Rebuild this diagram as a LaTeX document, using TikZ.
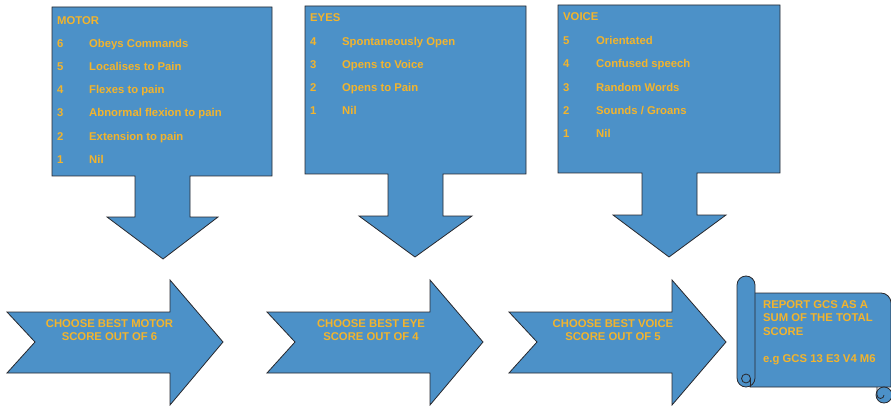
\documentclass[tikz,border=0pt]{standalone}
\usepackage{fontspec}
\setmainfont{Liberation Sans}
\definecolor{boxblue}{RGB}{76,145,200}
\definecolor{edgegray}{RGB}{40,40,45}
\definecolor{gold}{RGB}{242,180,45}
\begin{document}
\begin{tikzpicture}[x=1pt,y=-1pt,
  shapefill/.style={fill=boxblue,draw=edgegray,line width=0.8pt,line join=miter},
  thinline/.style={draw=edgegray,line width=0.8pt},
  lbl/.style={font=\fontsize{11.3}{13.5}\selectfont\bfseries,text=gold,anchor=base west,inner sep=0pt},
  clbl/.style={font=\fontsize{11.3}{13.5}\selectfont\bfseries,text=gold,anchor=base,inner sep=0pt}]
\useasboundingbox (0,0) rectangle (891,406);
% --- callout boxes with down arrows
\draw[shapefill] (52,7) -- (272,7) -- (272,176) -- (190,176) -- (190,217) -- (218,217) -- (163,259) -- (107,217) -- (135,217) -- (135,176) -- (52,176) -- cycle;
\draw[shapefill] (305,6) -- (526,6) -- (526,174) -- (443,174) -- (443,216) -- (472,216) -- (415,257) -- (359,216) -- (388,216) -- (388,174) -- (305,174) -- cycle;
\draw[shapefill] (558,5) -- (780,5) -- (780,173) -- (697,173) -- (697,215) -- (726,215) -- (669,257) -- (613,215) -- (642,215) -- (642,173) -- (558,173) -- cycle;
% MOTOR
\node[lbl] (mt) at (57,24.3) {MOTOR};
\node[lbl] (m6n) at (57,47.4) {6}; \node[lbl] (m6) at (89,47.4) {Obeys Commands};
\node[lbl] (m5n) at (57,70.6) {5}; \node[lbl] (m5) at (89,70.6) {Localises to Pain};
\node[lbl] (m4n) at (57,93.8) {4}; \node[lbl] (m4) at (89,93.8) {Flexes to pain};
\node[lbl] (m3n) at (57,117) {3}; \node[lbl] (m3) at (89,117) {Abnormal flexion to pain};
\node[lbl] (m2n) at (57,140.2) {2}; \node[lbl] (m2) at (89,140.2) {Extension to pain};
\node[lbl] (m1n) at (57,163.4) {1}; \node[lbl] (m1) at (89,163.4) {Nil};
% EYES
\node[lbl] (et) at (310,22) {EYES};
\node[lbl] (e4n) at (310,46) {4}; \node[lbl] (e4) at (342,46) {Spontaneously Open};
\node[lbl] (e3n) at (310,68.5) {3}; \node[lbl] (e3) at (342,68.5) {Opens to Voice};
\node[lbl] (e2n) at (310,92) {2}; \node[lbl] (e2) at (342,92) {Opens to Pain};
\node[lbl] (e1n) at (310,115) {1}; \node[lbl] (e1) at (342,115) {Nil};
% VOICE
\node[lbl] (vt) at (563,21) {VOICE};
\node[lbl] (v5n) at (563,44.3) {5}; \node[lbl] (v5) at (596,44.3) {Orientated};
\node[lbl] (v4n) at (563,67.8) {4}; \node[lbl] (v4) at (596,67.8) {Confused speech};
\node[lbl] (v3n) at (563,91.2) {3}; \node[lbl] (v3) at (596,91.2) {Random Words};
\node[lbl] (v2n) at (563,114.6) {2}; \node[lbl] (v2) at (596,114.6) {Sounds / Groans};
\node[lbl] (v1n) at (563,138) {1}; \node[lbl] (v1) at (596,138) {Nil};
% --- notched right arrows
\draw[shapefill] (7,312) -- (170,312) -- (170,280) -- (223,342) -- (170,405) -- (170,373) -- (7,373) -- (35,342) -- cycle;
\draw[shapefill] (267,312) -- (430,312) -- (430,280) -- (483,342) -- (430,405) -- (430,373) -- (267,373) -- (295,342) -- cycle;
\draw[shapefill] (509,312) -- (672,312) -- (672,280) -- (726,342) -- (672,405) -- (672,373) -- (509,373) -- (537,342) -- cycle;
\node[clbl] (a1a) at (109.5,327.2) {CHOOSE BEST MOTOR};
\node[clbl] (a1b) at (109.5,340.4) {SCORE OUT OF 6};
\node[clbl] (a2a) at (371,327.2) {CHOOSE BEST EYE};
\node[clbl] (a2b) at (371,340.4) {SCORE OUT OF 4};
\node[clbl] (a3a) at (613,327.2) {CHOOSE BEST VOICE};
\node[clbl] (a3b) at (613,340.4) {SCORE OUT OF 5};
% --- scroll: body with right roll (cut by the page edge)
% (y axis points down: angle 90 = down, 270 = up)
\draw[shapefill] (750,293) -- (881,293) arc[start angle=270,end angle=360,radius=10] -- (891,387) -- (750,387) -- cycle;
\draw[shapefill] (884,395) circle[radius=8];
\draw[thinline] (884,395) arc[start angle=0,end angle=180,radius=3.5] -- (877,387);
% left roll
\draw[shapefill] (737,285) arc[start angle=180,end angle=360,radius=9] -- (755,378) arc[start angle=0,end angle=180,radius=9] -- cycle;
\draw[thinline] (746,378.5) circle[radius=4.5];
\draw[thinline] (750.5,378.5) -- (750.5,386.5);
\node[lbl] (s1) at (763,308.2) {REPORT GCS AS A};
\node[lbl] (s2) at (763,321.7) {SUM OF THE TOTAL};
\node[lbl] (s3) at (763,335.2) {SCORE};
\node[lbl] (s4) at (763,362.2) {e.g GCS 13 E3 V4 M6};
\end{tikzpicture}
\end{document}
